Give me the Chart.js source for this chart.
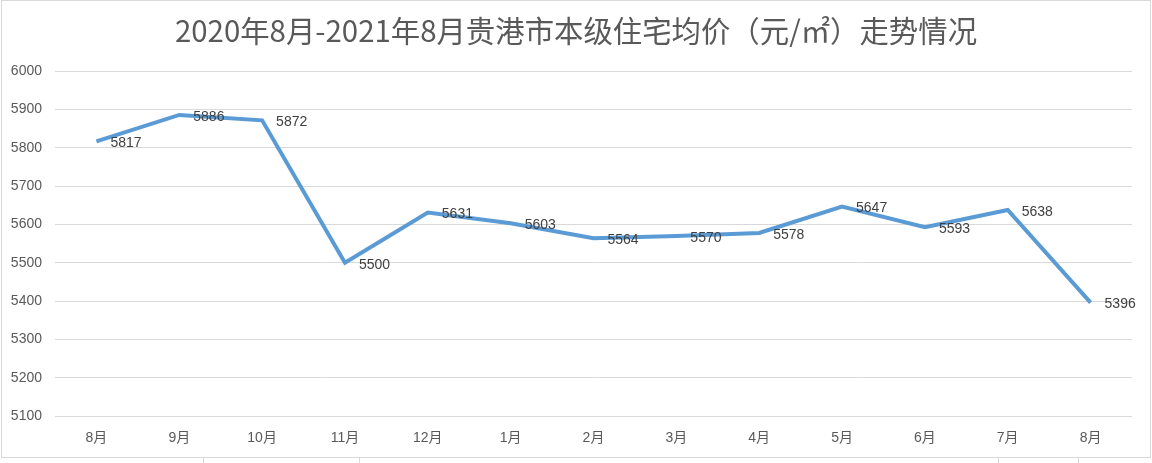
<!DOCTYPE html>
<html>
<head>
<meta charset="utf-8">
<script src="https://cdn.jsdelivr.net/npm/chart.js@4/dist/chart.umd.min.js"></script>
<style>
  html, body { margin: 0; padding: 0; background: #fff; }
  #wrap { width: 1152px; height: 463px; position: relative; }
</style>
</head>
<body>
<div id="wrap"><canvas id="priceChart"></canvas></div>
<script>
// data
const months = ['8月', '9月', '10月', '11月', '12月', '1月', '2月', '3月', '4月', '5月', '6月', '7月', '8月'];
const prices = [5817, 5886, 5872, 5500, 5631, 5603, 5564, 5570, 5578, 5647, 5593, 5638, 5396];
const chartTitle = '2020年8月-2021年8月贵港市本级住宅均价（元/㎡）走势情况';

const textColor = '#595959';
const gridColor = '#d9d9d9';

// frame around the chart + small marks under it
const framePlugin = {
    id: 'frame',
    beforeDraw(chart) {
        const ctx = chart.ctx;
        ctx.save();
        ctx.fillStyle = '#fff';
        ctx.fillRect(0, 0, chart.width, chart.height);
        ctx.strokeStyle = gridColor;
        ctx.lineWidth = 1;
        ctx.strokeRect(1.5, 0.5, 1149, 457);
        ctx.beginPath();
        [203, 359, 998, 1078].forEach(x => {
            ctx.moveTo(x + 0.5, 458);
            ctx.lineTo(x + 0.5, 463);
        });
        ctx.stroke();
        ctx.restore();
    }
};

// value labels to the right of each point
const valueLabels = {
    id: 'valueLabels',
    afterDatasetsDraw(chart) {
        const ctx = chart.ctx;
        const meta = chart.getDatasetMeta(0);
        ctx.save();
        ctx.font = "14px 'Liberation Sans', Arial, sans-serif";
        ctx.fillStyle = '#404040';
        ctx.textAlign = 'left';
        ctx.textBaseline = 'middle';
        meta.data.forEach((pt, i) => {
            ctx.fillText(String(prices[i]), pt.x + 14, pt.y + 2);
        });
        ctx.restore();
    }
};

const ctx = document.getElementById('priceChart').getContext('2d');
new Chart(ctx, {
    type: 'line',
    data: {
        labels: months,
        datasets: [{
            data: prices,
            borderColor: '#5b9bd5',
            borderWidth: 4,
            pointRadius: 0,
            tension: 0,
            fill: false
        }]
    },
    options: {
        responsive: true,
        maintainAspectRatio: false,
        animation: false,
        layout: {
            padding: 0
        },
        plugins: {
            legend: { display: false },
            tooltip: { enabled: false },
            title: {
                display: true,
                text: chartTitle,
                color: textColor,
                font: { family: "'Noto Sans CJK SC', sans-serif", size: 29.4, weight: 'normal' },
                padding: { top: 13, bottom: 23 }
            }
        },
        scales: {
            x: {
                offset: true,
                grid: { display: false, drawTicks: false, offset: true },
                border: { display: false },
                ticks: {
                    color: textColor,
                    padding: 14,
                    font: { family: "'Liberation Sans', 'Noto Sans CJK SC', sans-serif", size: 14 },
                    maxRotation: 0
                },
                afterFit(scale) { scale.height = 47; }
            },
            y: {
                min: 5100,
                max: 6000,
                grid: { color: gridColor, lineWidth: 1, drawTicks: false },
                border: { display: false },
                ticks: {
                    stepSize: 100,
                    color: textColor,
                    padding: 13,
                    font: { family: "'Liberation Sans', sans-serif", size: 14 },
                    callback: v => String(v)
                },
                afterFit(scale) { scale.width = 55; }
            },
            // empty right-hand strip so the plot ends where the reference does
            yRight: {
                position: 'right',
                min: 5100,
                max: 6000,
                grid: { display: false, drawTicks: false },
                border: { display: false },
                ticks: { display: false },
                afterFit(scale) { scale.width = 20; }
            }
        }
    },
    plugins: [framePlugin, valueLabels]
});
</script>
</body>
</html>
